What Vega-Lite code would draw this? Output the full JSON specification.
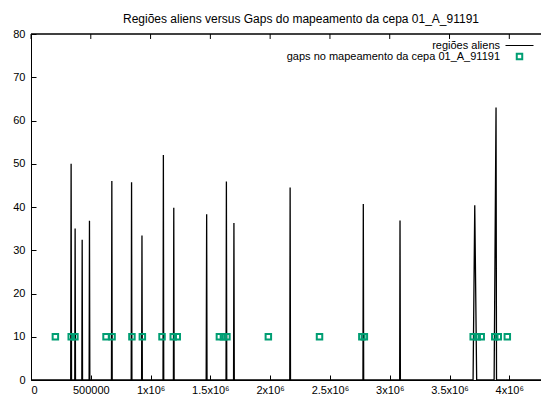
{
  "$schema": "https://vega.github.io/schema/vega-lite/v6.json",
  "autosize": "none",
  "width": 510,
  "height": 346,
  "padding": {"left": 31, "top": 34, "right": 0, "bottom": 17},
  "background": "white",
  "config": {
    "view": {"stroke": null},
    "font": "Liberation Sans",
    "axis": {
      "grid": false,
      "domainColor": "black",
      "domainWidth": 1,
      "tickColor": "black",
      "tickWidth": 1,
      "labelFont": "Liberation Sans",
      "labelFontSize": 11,
      "labelColor": "black",
      "title": null
    }
  },
  "title": {
    "text": "Regiões aliens versus Gaps do mapeamento da cepa 01_A_91191",
    "font": "Liberation Sans",
    "fontSize": 12,
    "fontWeight": "normal",
    "color": "black",
    "anchor": "middle",
    "dx": 15,
    "baseline": "alphabetic",
    "offset": -7
  },
  "datasets": {
    "aliens": [
      {"pos": 0, "count": 0},
      {"pos": 332000, "count": 0},
      {"pos": 335500, "count": 50},
      {"pos": 339000, "count": 0},
      {"pos": 366000, "count": 0},
      {"pos": 369000, "count": 35},
      {"pos": 372000, "count": 0},
      {"pos": 425000, "count": 0},
      {"pos": 428000, "count": 32.4},
      {"pos": 431000, "count": 0},
      {"pos": 486000, "count": 0},
      {"pos": 489000, "count": 36.8},
      {"pos": 492000, "count": 0},
      {"pos": 673000, "count": 0},
      {"pos": 676000, "count": 46},
      {"pos": 679000, "count": 0},
      {"pos": 838000, "count": 0},
      {"pos": 841000, "count": 45.7},
      {"pos": 844000, "count": 0},
      {"pos": 925000, "count": 0},
      {"pos": 928000, "count": 33.4},
      {"pos": 931000, "count": 0},
      {"pos": 1104000, "count": 0},
      {"pos": 1107000, "count": 52},
      {"pos": 1110000, "count": 0},
      {"pos": 1191000, "count": 0},
      {"pos": 1194000, "count": 39.8},
      {"pos": 1197000, "count": 0},
      {"pos": 1465000, "count": 0},
      {"pos": 1469000, "count": 38.3},
      {"pos": 1472000, "count": 0},
      {"pos": 1631000, "count": 0},
      {"pos": 1634000, "count": 45.9},
      {"pos": 1637000, "count": 0},
      {"pos": 1694000, "count": 0},
      {"pos": 1697000, "count": 36.3},
      {"pos": 1700000, "count": 0},
      {"pos": 2164000, "count": 0},
      {"pos": 2167000, "count": 44.5},
      {"pos": 2170000, "count": 0},
      {"pos": 2776000, "count": 0},
      {"pos": 2779000, "count": 40.7},
      {"pos": 2782000, "count": 0},
      {"pos": 3083000, "count": 0},
      {"pos": 3086000, "count": 36.9},
      {"pos": 3089000, "count": 0},
      {"pos": 3697000, "count": 0},
      {"pos": 3711000, "count": 40.4},
      {"pos": 3727000, "count": 0},
      {"pos": 3873000, "count": 0},
      {"pos": 3889000, "count": 63},
      {"pos": 3893000, "count": 0},
      {"pos": 4265000, "count": 0}
    ],
    "gaps": [
      {"pos": 203900, "count": 10},
      {"pos": 336400, "count": 10},
      {"pos": 367400, "count": 10},
      {"pos": 627500, "count": 10},
      {"pos": 677900, "count": 10},
      {"pos": 844000, "count": 10},
      {"pos": 931200, "count": 10},
      {"pos": 1095600, "count": 10},
      {"pos": 1189600, "count": 10},
      {"pos": 1223200, "count": 10},
      {"pos": 1575500, "count": 10},
      {"pos": 1609100, "count": 10},
      {"pos": 1638400, "count": 10},
      {"pos": 1984900, "count": 10},
      {"pos": 2412800, "count": 10},
      {"pos": 2766800, "count": 10},
      {"pos": 2787800, "count": 10},
      {"pos": 3698000, "count": 10},
      {"pos": 3731500, "count": 10},
      {"pos": 3765100, "count": 10},
      {"pos": 3878400, "count": 10},
      {"pos": 3907700, "count": 10},
      {"pos": 3983200, "count": 10}
    ],
    "topticks": [
      {"pos": 0}, {"pos": 500000}, {"pos": 1000000}, {"pos": 1500000}, {"pos": 2000000},
      {"pos": 2500000}, {"pos": 3000000}, {"pos": 3500000}, {"pos": 4000000}
    ],
    "border": [{"level": 80}]
  },
  "layer": [
    {
      "data": {"name": "aliens"},
      "mark": {"type": "line", "strokeWidth": 1.3, "clip": true},
      "encoding": {
        "x": {
          "field": "pos", "type": "quantitative",
          "scale": {"domain": [0, 4265000], "nice": false, "zero": false},
          "axis": {
            "orient": "bottom",
            "values": [0, 500000, 1000000, 1500000, 2000000, 2500000, 3000000, 3500000, 4000000],
            "tickSize": -5,
            "labelPadding": 9,
            "labelExpr": "datum.value == 0 ? '0' : datum.value == 500000 ? '500000' : (datum.value / 1000000) + 'x10⁶'"
          }
        },
        "y": {
          "field": "count", "type": "quantitative",
          "scale": {"domain": [0, 80], "nice": false},
          "axis": {
            "values": [0, 10, 20, 30, 40, 50, 60, 70, 80],
            "tickSize": -5,
            "labelPadding": 11
          }
        },
        "color": {
          "datum": "regiões aliens",
          "type": "nominal",
          "scale": {
            "domain": ["regiões aliens", "gaps no mapeamento da cepa 01_A_91191"],
            "range": ["black", "#009e73"]
          },
          "legend": {
            "title": null,
            "orient": "none",
            "legendX": 483,
            "legendY": 6,
            "labelFont": "Liberation Sans",
            "labelFontSize": 11,
            "labelColor": "black",
            "labelAlign": "right",
            "labelOffset": -25,
            "labelLimit": 400,
            "rowPadding": -6,
            "encode": {
              "symbols": {
                "update": {
                  "shape": {"signal": "datum.value == 'regiões aliens' ? 'stroke' : 'square'"},
                  "size": {"signal": "datum.value == 'regiões aliens' ? 784 : 30"},
                  "fill": {"value": "transparent"},
                  "stroke": {"signal": "datum.value == 'regiões aliens' ? '#333333' : '#009e73'"},
                  "strokeWidth": {"signal": "datum.value == 'regiões aliens' ? 1 : 2"},
                  "opacity": {"value": 1}
                }
              }
            }
          }
        }
      }
    },
    {
      "data": {"name": "gaps"},
      "mark": {"type": "point", "shape": "square", "filled": false, "strokeWidth": 2, "size": 30, "opacity": 1, "clip": true},
      "encoding": {
        "x": {"field": "pos", "type": "quantitative"},
        "y": {"field": "count", "type": "quantitative"},
        "color": {"datum": "gaps no mapeamento da cepa 01_A_91191", "type": "nominal"}
      }
    },
    {
      "data": {"name": "border"},
      "mark": {"type": "rule", "color": "black", "strokeWidth": 1.5},
      "encoding": {"y": {"field": "level", "type": "quantitative"}}
    },
    {
      "data": {"name": "topticks"},
      "mark": {"type": "rule", "color": "black", "strokeWidth": 1},
      "encoding": {
        "x": {"field": "pos", "type": "quantitative"},
        "y": {"datum": 80},
        "y2": {"datum": 78.85}
      }
    }
  ]
}
